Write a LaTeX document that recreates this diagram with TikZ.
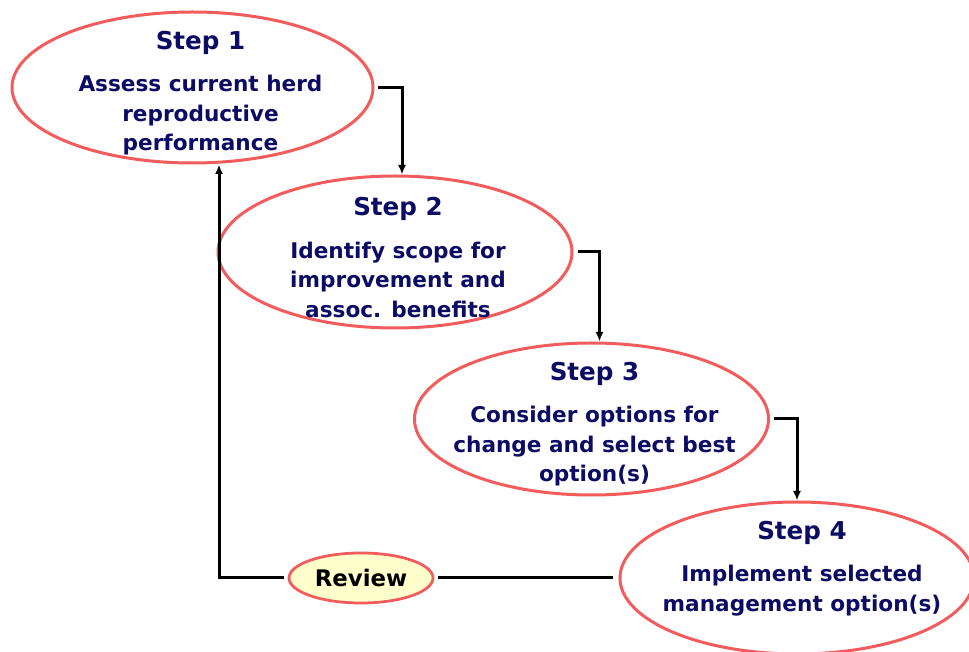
\documentclass[tikz,border=0pt]{standalone}
\usepackage{fontspec}
\setmainfont{DejaVu Sans}
\usepackage{xcolor}
\usetikzlibrary{positioning, arrows.meta}
\usetikzlibrary{shapes.geometric}

\definecolor{steprose}{RGB}{242,92,92}
\definecolor{stepnavy}{RGB}{12,12,100}
\definecolor{reviewcream}{RGB}{255,255,204}

\begin{document}
\begin{tikzpicture}[
            x=0.2mm, y=0.2mm,
            stepbox/.style={ellipse, draw=steprose, line width=0.6mm, fill=white,
                minimum width=70.8mm, minimum height=30.4mm, inner sep=0pt},
            steptext/.style={align=center, inner sep=0pt, text=stepnavy,
                font=\bfseries\fontsize{12.3}{16.7}\selectfont},
            reviewbox/.style={ellipse, draw=steprose, line width=0.55mm, fill=reviewcream,
                minimum width=28.8mm, minimum height=10mm, inner sep=0pt,
                font=\bfseries\fontsize{13}{15}\selectfont},
            link/.style={line width=0.6mm, -{Latex[length=1.9mm, width=1.6mm]}},
        ]
            \useasboundingbox (0,0) rectangle (969,-652);

            \node[stepbox, minimum width=72.2mm, minimum height=30.2mm] (s1) at (192.5,-87.5) {};
            \node[stepbox] (s2) at (395,-252) {};
            \node[stepbox] (s3) at (591.5,-419) {};
            \node[stepbox] (s4) at (797,-578) {};
            \node[reviewbox] (rv) at (361,-578) {Review};

            \node[steptext, below=4mm of s1.north, xshift=1.6mm] (t1)
                {{\fontsize{14}{16.7}\selectfont Step 1}\\[7.7pt]Assess current herd\\reproductive\\performance};
            \node[steptext, below=4.5mm of s2.north, xshift=0.6mm] (t2)
                {{\fontsize{14}{16.7}\selectfont Step 2}\\[7.7pt]Identify scope for\\improvement and\\assoc. benefits};
            \node[steptext, below=4mm of s3.north, xshift=0.6mm] (t3)
                {{\fontsize{14}{16.7}\selectfont Step 3}\\[7.7pt]Consider options for\\change and select best\\option(s)};
            \node[steptext, below=4mm of s4.north, xshift=1mm] (t4)
                {{\fontsize{14}{16.7}\selectfont Step 4}\\[7.7pt]Implement selected\\management option(s)};

            \draw[link, shorten <=0.6mm] (s1.east) -| ([xshift=1.4mm]s2.north);
            \draw[link, shorten <=0.8mm] (s2.east) -| ([xshift=1.6mm]s3.north);
            \draw[link, shorten <=0.8mm] (s3.east) -| (s4.north);
            \draw[line width=0.6mm, shorten <=1.2mm, shorten >=0.8mm] (s4.west) -- (rv.east);
            \draw[link, shorten <=0.8mm] (rv.west) -| ([xshift=5.3mm]s1.south);
        \end{tikzpicture}
\end{document}
